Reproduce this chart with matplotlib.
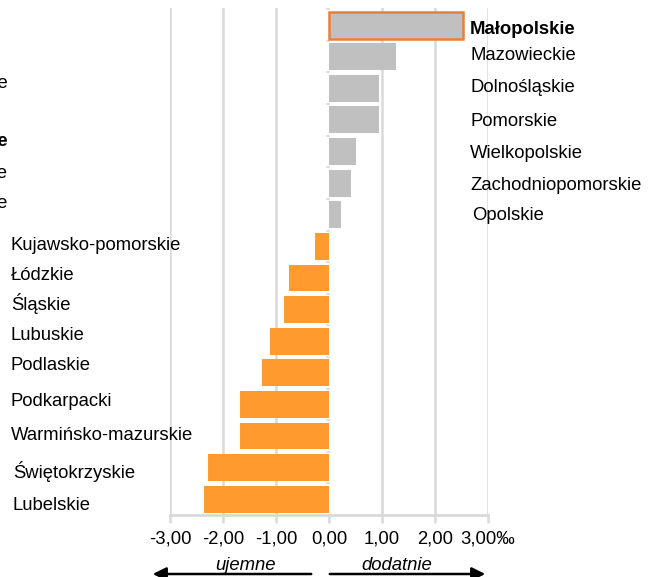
import matplotlib
matplotlib.use("Agg")
import numpy as np
import matplotlib.pyplot as plt

plt.rcParams['font.family'] = ['Liberation Sans', 'DejaVu Sans']

regions = ['Małopolskie', 'Mazowieckie', 'Dolnośląskie', 'Pomorskie', 'Wielkopolskie',
           'Zachodniopomorskie', 'Opolskie', 'Kujawsko-pomorskie', 'Łódzkie', 'Śląskie',
           'Lubuskie', 'Podlaskie', 'Podkarpacki', 'Warmińsko-mazurskie', 'Świętokrzyskie',
           'Lubelskie']
values = [2.53, 1.26, 0.94, 0.94, 0.51, 0.42, 0.23, -0.26, -0.75, -0.85,
          -1.11, -1.26, -1.68, -1.68, -2.28, -2.36]
xticks = [-3, -2, -1, 0, 1, 2, 3]
xticklabels = ['-3,00', '-2,00', '-1,00', '0,00', '1,00', '2,00', '3,00‰']
# fragments of labels cut at the left edge of the source image
cut_labels = [('Dolnośląskie', 'normal'), ('Małopolskie', 'bold'),
              ('Wielkopolskie', 'normal'), ('Zachodniopomorskie', 'normal')]

# label placement (pixels from top), labels are not exactly on bar centres
label_ypx = [27, 53, 86, 120, 152, 183, 213, 244, 274, 302, 333, 363, 399, 433, 470, 503]
label_xpx = [470, 470, 470, 470, 470, 470, 472, 11, 11, 11, 11, 11, 11, 11, 13, 13]

W, H = 653, 577
fs = 13.3
fig = plt.figure(figsize=(W / 100, H / 100), dpi=100)
ax = fig.add_axes([170 / W, 1 - 515 / H, 318 / W, 507 / H])

grey = '#c0c0c0'
orange = '#ff9a2e'
y = np.arange(len(regions))
colors = [grey if v > 0 else orange for v in values]
bars = ax.barh(y, values, height=0.85, color=colors, zorder=2)
bars[0].set_edgecolor('#e8803a')
bars[0].set_linewidth(1.8)

ax.set_xlim(-3, 3)
ax.set_ylim(15.5, -0.54)
ax.set_xticks(xticks)
ax.set_xticklabels(xticklabels, fontsize=fs)
ax.set_yticks([])
for gx in [-3, -2, -1, 1, 2, 3]:
    ax.axvline(gx, color='#d9d9d9', lw=1.8, zorder=1)
for s in ['top', 'right', 'left']:
    ax.spines[s].set_visible(False)
ax.spines['bottom'].set_color('#d9d9d9')
ax.spines['bottom'].set_linewidth(2)
ax.tick_params(axis='x', length=6, width=1.8, color='#d9d9d9', pad=5)

# small ticks on the zero axis between categories
for b in np.arange(-0.5, 15.5, 1):
    ax.plot([-0.04, 0], [b, b], color='#d9d9d9', lw=1.2, zorder=1)

for i, (name, v) in enumerate(zip(regions, values)):
    fig.text(label_xpx[i] / W, 1 - (label_ypx[i] + 2) / H, name, ha='left', va='center',
             fontsize=fs, fontweight='bold' if i == 0 else 'normal')

for (name, w), ypx in zip(cut_labels, [84, 142, 174, 204]):
    fig.text(8 / W, 1 - ypx / H, name, ha='right', va='center', fontsize=fs,
             fontweight=w)

# direction arrows below the axis
fig.text(245 / W, 1 - 565 / H, 'ujemne', ha='center', va='center', fontsize=fs,
         style='italic')
fig.text(397 / W, 1 - 565 / H, 'dodatnie', ha='center', va='center', fontsize=fs,
         style='italic')
ax.annotate('', xy=(150 / W, 1 - 574 / H), xytext=(314 / W, 1 - 574 / H),
            xycoords='figure fraction',
            arrowprops=dict(arrowstyle='-|>', color='black', lw=1.8,
                            mutation_scale=20))
ax.annotate('', xy=(488 / W, 1 - 574 / H), xytext=(327 / W, 1 - 574 / H),
            xycoords='figure fraction',
            arrowprops=dict(arrowstyle='-|>', color='black', lw=1.8,
                            mutation_scale=20))

fig.savefig('out.png', dpi=100)
